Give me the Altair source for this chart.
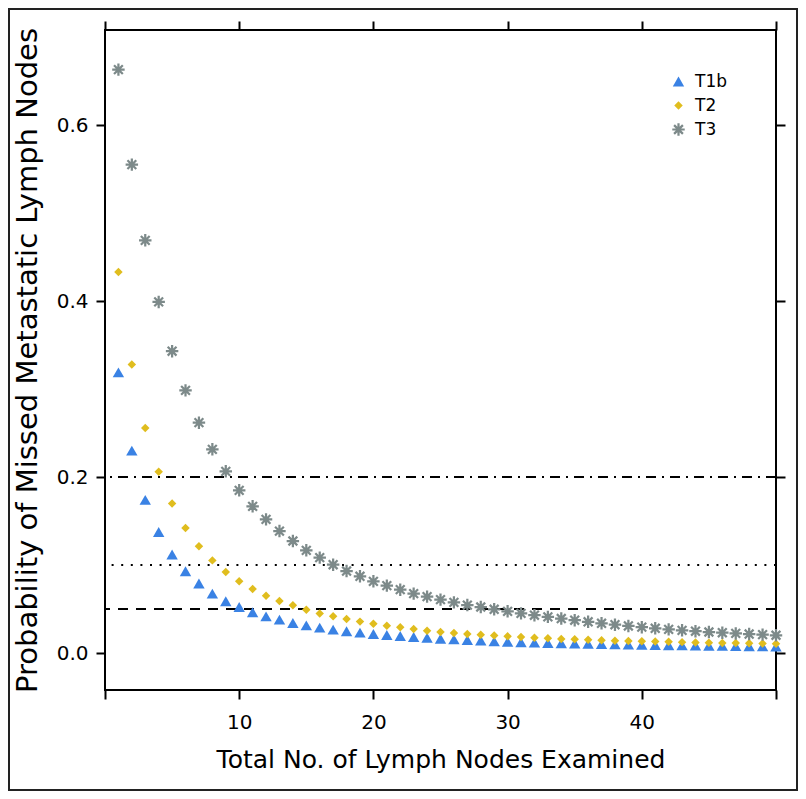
import math
import altair as alt
import pandas as pd

# ---------------- data ----------------
nodes = list(range(1, 51))

t1b = [0.319, 0.230, 0.174, 0.1375, 0.112, 0.093, 0.079, 0.0675, 0.0588, 0.0523,
       0.0463, 0.0417, 0.0380, 0.0341, 0.0315, 0.0289, 0.0266, 0.0247, 0.0232, 0.0216,
       0.0205, 0.0193, 0.0182, 0.0174, 0.0163, 0.0156, 0.0148, 0.0142, 0.0133, 0.0128,
       0.0122, 0.0118, 0.0114, 0.0111, 0.0108, 0.0105, 0.0102, 0.0099, 0.0096, 0.0094,
       0.0091, 0.0089, 0.0087, 0.0085, 0.0083, 0.0081, 0.0079, 0.0077, 0.0076, 0.0074]

t2 = [0.433, 0.328, 0.2557, 0.2061, 0.1698, 0.1421, 0.1213, 0.1053, 0.0921, 0.0815,
      0.0728, 0.0652, 0.0591, 0.0542, 0.0493, 0.0448, 0.0417, 0.0387, 0.0357, 0.0334,
      0.0311, 0.0292, 0.0273, 0.0254, 0.0239, 0.0227, 0.0216, 0.0209, 0.0198, 0.0190,
      0.0182, 0.0175, 0.0167, 0.0160, 0.0156, 0.0150, 0.0145, 0.0141, 0.0137, 0.0133,
      0.0130, 0.0127, 0.0124, 0.0121, 0.0118, 0.0115, 0.0113, 0.0110, 0.0108, 0.0106]

t3 = [0.663, 0.555, 0.469, 0.399, 0.343, 0.2985, 0.2618, 0.2315, 0.2065, 0.1849,
      0.1667, 0.1519, 0.1386, 0.1273, 0.1167, 0.1084, 0.1004, 0.0932, 0.0872, 0.0815,
      0.0766, 0.0720, 0.0675, 0.0641, 0.0607, 0.0576, 0.0545, 0.0523, 0.0497, 0.0474,
      0.0451, 0.0430, 0.0411, 0.0392, 0.0373, 0.0355, 0.0338, 0.0322, 0.0308, 0.0294,
      0.0281, 0.0269, 0.0258, 0.0248, 0.0239, 0.0231, 0.0223, 0.0216, 0.0209, 0.0202]

series_names = ["T1b", "T2", "T3"]
series_colors = ["#3a82e4", "#e0bd1e", "#7d8a8a"]

ref_values = [0.2, 0.1, 0.05]
ref_styles = ["dashdot", "dotted", "dashed"]

x_ticks = [0, 10, 20, 30, 40, 50]
y_ticks = [0.0, 0.2, 0.4, 0.6]

# ---------------- tables ----------------
rows = []
for name, vals in zip(series_names, [t1b, t2, t3]):
    for n, v in zip(nodes, vals):
        rows.append({"n": n, "p": v, "series": name})
df = pd.DataFrame(rows)
refs = pd.DataFrame({"y": ref_values, "style": ref_styles})

# ---------------- styling ----------------
W, H = 671, 660
FONT = "DejaVu Sans"


def asterisk_path(t=0.18):
    # 8-spoke asterisk as four filled bars (same winding -> union)
    parts = []
    for k in range(4):
        th = math.pi * k / 4
        dx, dy = math.cos(th), math.sin(th)
        nx, ny = -dy * t, dx * t
        pts = [(dx + nx, dy + ny), (dx - nx, dy - ny),
               (-dx - nx, -dy - ny), (-dx + nx, -dy + ny)]
        parts.append("M" + "L".join(f"{x:.4f},{y:.4f}" for x, y in pts) + "Z")
    return "".join(parts)


ASTER = asterisk_path()

xscale = alt.Scale(domain=[0, 50], nice=False, zero=False)
yscale = alt.Scale(domain=[-0.042, 0.708], nice=False, zero=False)

common = dict(grid=False, domain=False, ticks=True, tickSize=9, tickWidth=2,
              tickColor="black", labelColor="black", titleColor="black",
              labelFont=FONT, titleFont=FONT, titleFontWeight="normal")

x_bottom = alt.Axis(values=x_ticks,
                    labelExpr="(datum.value == 0 || datum.value == 50) ? '' : datum.label",
                    labelFontSize=20, labelPadding=13,
                    title="Total No. of Lymph Nodes Examined",
                    titleFontSize=25, titlePadding=15, **common)
y_left = alt.Axis(values=y_ticks, format=".1f", labelFontSize=20, labelPadding=8,
                  title="Probability of Missed Metastatic Lymph Nodes",
                  titleFontSize=29, titlePadding=14, **common)
x_top = alt.Axis(orient="top", values=x_ticks, labels=False, **common)
y_right = alt.Axis(orient="right", values=y_ticks, labels=False, **common)

leg = alt.Legend(orient="none", legendX=565, legendY=43, title=None,
                 labelFont=FONT, labelFontSize=17, labelColor="black",
                 rowPadding=6, labelOffset=8)

color_scale = alt.Scale(domain=series_names, range=series_colors)

border = alt.Chart(pd.DataFrame({"k": [0]})).mark_rect(
    fillOpacity=0, stroke="#222222", strokeWidth=2, clip=False
).encode(
    x=alt.value(-96), x2=alt.value(W + 21),
    y=alt.value(-21), y2=alt.value(H + 100),
)

rules = alt.Chart(refs).mark_rule(strokeWidth=2, color="black").encode(
    y=alt.Y("y:Q", scale=yscale, axis=None),
    strokeDash=alt.StrokeDash(
        "style:N",
        scale=alt.Scale(domain=ref_styles, range=[[10, 6, 2, 6], [2, 7.6], [10, 8]]),
        legend=None),
)

ghost = alt.Chart(df).mark_point(opacity=0).encode(
    x=alt.X("n:Q", scale=xscale, axis=x_top, title=None),
    y=alt.Y("p:Q", scale=yscale, axis=y_right, title=None),
)

points = alt.Chart(df).mark_point(filled=True, opacity=1, strokeWidth=0).encode(
    x=alt.X("n:Q", scale=xscale, axis=x_bottom),
    y=alt.Y("p:Q", scale=yscale, axis=y_left),
    color=alt.Color("series:N", scale=color_scale, legend=leg),
    shape=alt.Shape("series:N",
                    scale=alt.Scale(domain=series_names,
                                    range=["triangle-up", "diamond", ASTER]),
                    legend=leg),
    size=alt.Size("series:N",
                  scale=alt.Scale(type="ordinal", domain=series_names,
                                  range=[130, 72, 155]),
                  legend=leg),
    order=alt.Order("series:N"),
)

chart = alt.layer(border, rules, ghost, points).resolve_axis(
    x="independent", y="independent"
).properties(
    width=W, height=H,
    autosize=alt.AutoSizeParams(type="none"),
    padding={"left": 97, "top": 22, "right": 22, "bottom": 101},
    background="white",
).configure_view(stroke="black", strokeWidth=2)

chart.save("out.html", embed_options={"renderer": "svg", "actions": False})
